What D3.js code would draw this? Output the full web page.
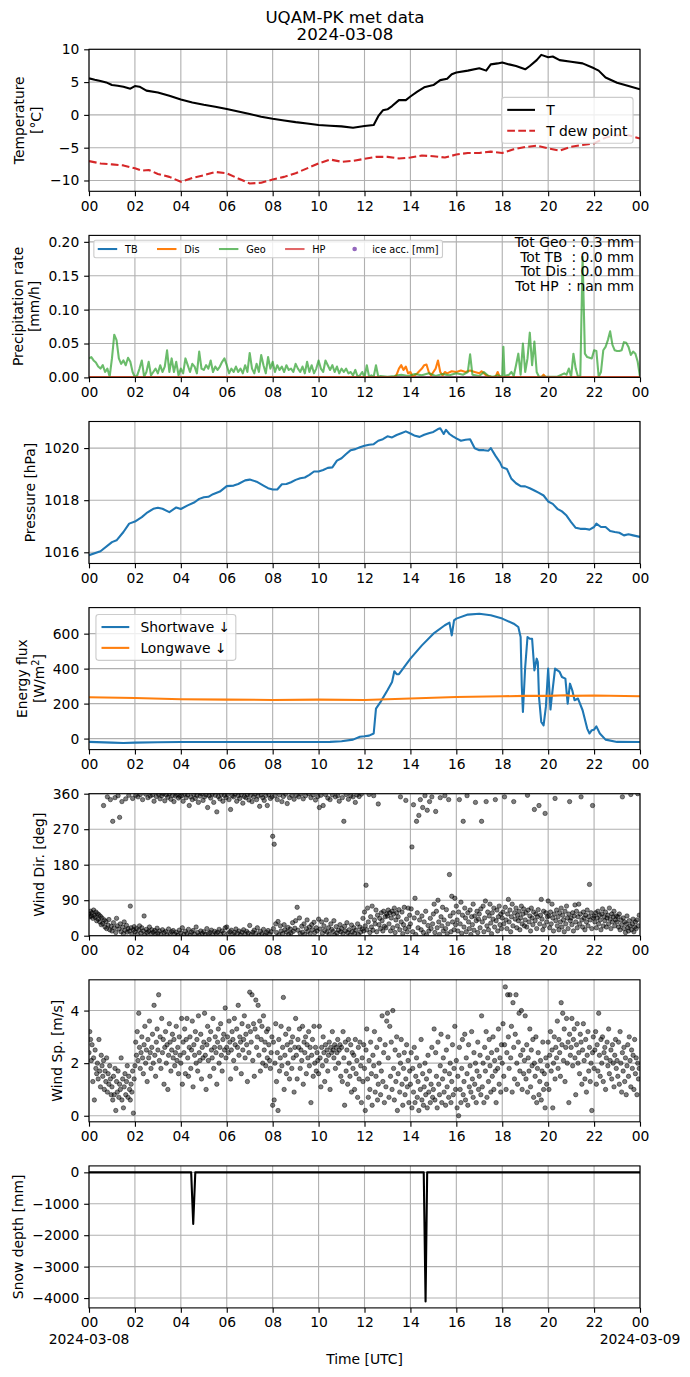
<!DOCTYPE html>
<html>
<head>
<meta charset="utf-8">
<script src="https://cdn.jsdelivr.net/npm/d3@7"></script>
<style>
  body { margin: 0; background: #fff; }
  svg text { font-family: "DejaVu Sans", sans-serif; }
</style>
</head>
<body>
<div id="chart"></div>
<script>
// ---- data (hours since 2024-03-08 00:00 UTC) ----
const hourTicks = [0, 2, 4, 6, 8, 10, 12, 14, 16, 18, 20, 22, 24];

const tempT = [[0,5.57],[0.25,5.35],[0.5,5.17],[0.75,4.95],[1,4.55],[1.25,4.45],[1.5,4.3],[1.8,4.0],[2.0,4.4],[2.2,4.3],[2.5,3.7],[3,3.4],[3.5,2.9],[4,2.35],[4.5,1.9],[5,1.55],[5.5,1.25],[6,0.9],[6.5,0.5],[7,0.13],[7.5,-0.28],[8,-0.6],[8.5,-0.85],[9,-1.1],[9.5,-1.3],[10,-1.55],[10.5,-1.65],[11,-1.75],[11.5,-1.95],[12,-1.7],[12.4,-1.55],[12.6,-0.2],[12.8,0.7],[13,0.85],[13.2,1.35],[13.5,2.25],[13.8,2.25],[14,2.8],[14.3,3.55],[14.6,4.2],[15,4.55],[15.3,5.3],[15.6,5.5],[15.8,6.2],[16,6.45],[16.5,6.75],[17,7.1],[17.3,6.75],[17.5,7.7],[17.8,7.85],[18,8.0],[18.3,7.7],[18.6,7.45],[19,6.95],[19.2,7.45],[19.5,8.35],[19.7,9.15],[20,8.8],[20.2,8.9],[20.5,8.35],[21,8.1],[21.5,7.85],[22,7.1],[22.2,6.75],[22.5,5.7],[23,4.9],[23.5,4.4],[24,3.9]];

const tempDew = [[0,-7.05],[0.5,-7.4],[1,-7.55],[1.5,-7.7],[2,-8.15],[2.3,-8.5],[2.6,-8.4],[3,-9.0],[3.5,-9.45],[4,-10.2],[4.5,-9.6],[5,-9.2],[5.5,-8.7],[6,-8.9],[6.5,-9.7],[7,-10.45],[7.5,-10.35],[8,-9.85],[8.5,-9.45],[9,-8.9],[9.5,-8.15],[10,-7.4],[10.5,-6.8],[11,-7.15],[11.5,-7.0],[12,-6.7],[12.5,-6.4],[13,-6.4],[13.5,-6.65],[14,-6.5],[14.5,-6.2],[15,-6.3],[15.5,-6.5],[16,-6.05],[16.5,-5.8],[17,-5.8],[17.5,-5.6],[18,-5.8],[18.5,-5.25],[19,-4.9],[19.5,-4.7],[20,-5.1],[20.5,-5.45],[21,-4.85],[21.5,-4.6],[22,-4.35],[22.5,-3.45],[23,-3.1],[23.5,-3.1],[24,-3.6]];

const precipTB = [[0,0],[24,0]];
const precipHP = [[0,0],[24,0]];
const precipDis = [[0,0],[13.3,0],[13.4,0.004],[13.5,0.013],[13.6,0.018],[13.7,0.011],[13.8,0.016],[13.9,0.006],[14.0,0.008],[14.1,0.001],[14.3,0.006],[14.5,0.013],[14.6,0.018],[14.7,0.019],[14.8,0.008],[14.9,0.003],[15.0,0.008],[15.1,0.013],[15.2,0.025],[15.3,0.008],[15.4,0.003],[15.5,0.008],[15.6,0.006],[15.8,0.009],[16.0,0.008],[16.2,0.01],[16.4,0.008],[16.6,0.01],[16.8,0.008],[17.0,0.006],[17.1,0.009],[17.3,0.003],[17.5,0.001],[17.7,0],[17.8,0.008],[17.9,0],[19.7,0],[19.8,0.004],[19.9,0],[24,0]];
const precipGeo = [[0.0,0.028],[0.1,0.03],[0.2,0.025],[0.3,0.022],[0.4,0.016],[0.5,0.013],[0.6,0.018],[0.7,0.008],[0.8,0.013],[0.9,0.001],
  [1.0,0.028],[1.1,0.063],[1.2,0.055],[1.3,0.028],[1.4,0.02],[1.5,0.025],[1.6,0.018],[1.7,0.029],[1.8,0.023],[1.9,0.008],
  [2.0,0],[2.1,0.003],[2.2,0.013],[2.3,0.025],[2.4,0.001],[2.5,0.008],[2.6,0.023],[2.7,0.003],[2.8,0.008],[2.9,0.013],
  [3.0,0.006],[3.1,0.018],[3.2,0.008],[3.3,0.016],[3.4,0.04],[3.5,0.008],[3.6,0.028],[3.7,0.008],[3.8,0.023],[3.9,0.003],
  [4.0,0.013],[4.1,0.006],[4.2,0.028],[4.3,0.018],[4.4,0.008],[4.5,0.02],[4.6,0.016],[4.7,0.006],[4.8,0.038],[4.9,0.013],
  [5.0,0.011],[5.1,0.018],[5.2,0.013],[5.3,0.025],[5.4,0.008],[5.5,0.016],[5.6,0.011],[5.7,0.016],[5.8,0.023],[5.9,0.028],
  [6.0,0.018],[6.1,0.006],[6.2,0.013],[6.3,0.008],[6.4,0.016],[6.5,0.008],[6.6,0.013],[6.7,0.006],[6.8,0.018],[6.9,0.008],
  [7.0,0.036],[7.1,0.013],[7.2,0.006],[7.3,0.02],[7.4,0.008],[7.5,0.033],[7.6,0.018],[7.7,0.006],[7.8,0.03],[7.9,0.013],
  [8.0,0.023],[8.1,0.008],[8.2,0.018],[8.3,0.011],[8.4,0.016],[8.5,0.008],[8.6,0.018],[8.7,0.011],[8.8,0.013],[8.9,0.008],
  [9.0,0.02],[9.1,0.013],[9.2,0.008],[9.3,0.016],[9.4,0.006],[9.5,0.023],[9.6,0.008],[9.7,0.018],[9.8,0.006],[9.9,0.013],
  [10.0,0.025],[10.1,0.013],[10.2,0.008],[10.3,0.025],[10.4,0.018],[10.5,0.011],[10.6,0.018],[10.7,0.008],[10.8,0.016],[10.9,0.006],
  [11.0,0.013],[11.1,0.008],[11.2,0.013],[11.3,0.006],[11.4,0.008],[11.5,0.003],[11.6,0.011],[11.7,0.001],[11.8,0.003],[11.9,0.008],
  [12.0,0],[12.1,0.018],[12.2,0.001],[12.3,0.003],[12.4,0.001],[12.5,0.018],[12.6,0.001],
  [12.7,0.002],[13.0,0.001],[13.3,0.002],[13.6,0.004],[13.9,0.002],[14.2,0.005],[14.5,0.003],[14.8,0.006],[15.1,0.002],[15.4,0.005],
  [15.7,0.003],[16.0,0.006],[16.3,0.004],[16.5,0.008],[16.6,0.034],[16.7,0.004],[17.0,0.002],[17.2,0.008],[17.4,0.002],[17.6,0.001],
  [17.8,0.003],[18.0,0.001],[18.05,0.045],[18.1,0.002],[18.3,0.004],[18.4,0.008],[18.5,0.002],[18.6,0.018],[18.7,0.035],[18.8,0.004],
  [18.9,0.05],[19.0,0.008],[19.1,0.028],[19.2,0.066],[19.3,0.018],[19.4,0.053],[19.5,0.008],[19.6,0.001],[20.0,0.001],[20.4,0.001],
  [20.7,0.006],[20.8,0.004],[20.9,0.013],[21.0,0.001],[21.1,0.035],[21.2,0.013],[21.3,0.001],[21.4,0.002],[21.5,0.178],[21.6,0.035],
  [21.7,0.03],[21.8,0.029],[21.9,0.028],[22.0,0.04],[22.1,0.039],[22.2,0.001],[22.3,0.008],[22.4,0.04],[22.5,0.045],[22.6,0.055],
  [22.7,0.068],[22.8,0.048],[22.9,0.04],[23.0,0.039],[23.1,0.039],[23.2,0.04],[23.3,0.052],[23.4,0.051],[23.5,0.045],[23.6,0.033],
  [23.7,0.038],[23.8,0.035],[23.9,0.023],[24.0,0.001]];
const precipTotals = ["Tot Geo : 0.3 mm", "Tot TB  : 0.0 mm", "Tot Dis : 0.0 mm", "Tot HP  : nan mm"];

const pressure = [[0,1015.89],[0.5,1016.04],[1,1016.39],[1.2,1016.46],[1.5,1016.78],[1.75,1017.1],[2,1017.18],[2.3,1017.35],[2.5,1017.5],[2.8,1017.67],[3,1017.71],[3.2,1017.67],[3.5,1017.54],[3.8,1017.72],[4,1017.66],[4.3,1017.8],[4.6,1017.92],[4.8,1018.05],[5,1018.11],[5.2,1018.13],[5.4,1018.23],[5.7,1018.33],[6,1018.54],[6.3,1018.56],[6.5,1018.62],[6.8,1018.76],[7,1018.79],[7.3,1018.71],[7.6,1018.56],[7.8,1018.46],[8,1018.41],[8.2,1018.41],[8.4,1018.61],[8.6,1018.62],[8.8,1018.69],[9,1018.78],[9.2,1018.84],[9.4,1018.87],[9.6,1018.97],[9.8,1019.1],[10,1019.1],[10.2,1019.16],[10.4,1019.24],[10.6,1019.26],[10.8,1019.52],[11,1019.61],[11.2,1019.77],[11.4,1019.92],[11.6,1019.96],[11.8,1020.03],[12,1020.09],[12.2,1020.13],[12.4,1020.15],[12.6,1020.28],[12.8,1020.34],[13,1020.45],[13.2,1020.41],[13.4,1020.5],[13.6,1020.57],[13.8,1020.64],[14,1020.56],[14.2,1020.47],[14.4,1020.43],[14.6,1020.51],[14.8,1020.57],[15,1020.62],[15.2,1020.73],[15.3,1020.76],[15.45,1020.54],[15.55,1020.7],[15.7,1020.54],[15.85,1020.45],[16,1020.37],[16.2,1020.28],[16.4,1020.32],[16.6,1020.34],[16.8,1019.99],[17,1019.92],[17.2,1019.92],[17.4,1019.9],[17.5,1020.0],[17.7,1019.71],[17.9,1019.45],[18,1019.26],[18.2,1019.2],[18.4,1018.82],[18.6,1018.65],[18.8,1018.54],[19,1018.53],[19.2,1018.46],[19.4,1018.37],[19.6,1018.28],[19.8,1018.18],[20,1017.95],[20.2,1017.86],[20.4,1017.67],[20.6,1017.57],[20.8,1017.41],[21,1017.16],[21.2,1016.94],[21.4,1016.9],[21.6,1016.9],[21.8,1016.87],[22,1016.97],[22.1,1017.1],[22.3,1016.97],[22.5,1016.97],[22.7,1016.82],[22.9,1016.78],[23.1,1016.75],[23.3,1016.65],[23.5,1016.69],[23.7,1016.65],[24,1016.59]];

const swDown = [[0,-19],[1,-23],[1.5,-25],[2,-23],[3,-21],[4,-20],[6,-20],[8,-20],[10,-20],[10.5,-19],[11,-15],[11.5,-6],[11.8,10],[12,13],[12.2,17],[12.4,29],[12.5,171],[12.7,210],[13,276],[13.2,324],[13.3,385],[13.4,368],[13.5,368],[14,457],[14.5,533],[15,600],[15.5,648],[15.7,663],[15.8,590],[15.9,676],[16,686],[16.5,709],[17,714],[17.5,705],[18,686],[18.5,657],[18.7,638],[18.8,581],[18.85,305],[18.9,152],[19.0,410],[19.1,581],[19.2,571],[19.3,571],[19.4,390],[19.5,457],[19.55,438],[19.6,238],[19.7,95],[19.8,76],[19.9,181],[20.0,400],[20.1,166],[20.15,229],[20.3,400],[20.5,381],[20.6,352],[20.75,343],[20.85,200],[20.95,314],[21.05,276],[21.15,219],[21.3,229],[21.5,162],[21.7,57],[21.8,29],[21.9,48],[22.0,51],[22.1,70],[22.25,29],[22.5,-6],[23,-19],[24,-20]];
const lwDown = [[0,236],[2,232],[4,225],[6,223],[8,221],[10,223],[12,221],[13,225],[14,229],[16,238],[18,242],[19,244],[20,244],[20.8,248],[21,244],[22,246],[24,242]];

// wind samples every 2 minutes (30 per hour)
const windStepMin = 2;
const windDir = [
  55,48,62,50,58,44,65,52,47,60,38,56,42,53,35,49,28,45,31,330,40,22,36,18,352,27,41,15,345,24,
  12,290,33,20,350,8,44,25,355,17,300,30,10,340,22,5,35,14,347,26,9,18,356,12,75,20,4,348,15,23,
  10,356,18,3,352,14,25,358,7,20,345,12,50,2,359,16,8,350,11,22,354,5,15,357,9,341,13,4,353,19,
  6,358,12,347,3,355,15,360,8,342,11,357,2,351,17,359,5,346,10,356,13,340,4,354,9,358,1,349,14,353,
  7,355,20,341,3,359,11,350,5,357,16,330,2,352,9,345,13,358,4,348,22,356,8,338,1,354,12,360,6,343,
  10,352,3,357,18,325,5,355,8,349,14,359,2,338,11,356,6,314,9,353,16,347,4,358,12,341,7,356,20,350,
  22,358,5,345,10,320,14,355,3,352,8,359,17,341,6,355,12,348,2,357,9,336,15,353,4,350,11,358,7,344,
  26,356,3,340,9,352,14,359,6,345,20,354,1,328,11,357,5,350,16,343,2,355,8,330,13,358,4,348,10,352,
  252,18,232,355,30,8,345,36,2,357,25,12,340,5,353,28,15,359,9,335,21,4,350,17,7,356,33,11,346,19,
  38,356,72,14,352,45,6,359,24,9,347,30,3,355,18,40,11,360,22,5,350,28,15,357,34,8,344,20,12,353,
  42,325,17,356,35,6,330,25,13,358,40,9,349,20,4,345,30,16,357,11,38,2,352,23,7,355,14,341,28,10,
  18,350,5,290,24,12,358,33,8,346,15,2,355,27,10,352,20,6,338,14,357,30,3,353,22,9,359,17,44,12,
  60,25,128,15,70,35,358,8,48,22,75,14,355,40,30,65,10,52,334,28,44,18,58,38,12,62,24,48,20,55,
  50,65,30,58,12,45,62,20,55,70,8,40,58,25,48,66,15,352,35,60,5,28,72,18,343,42,10,70,22,52,
  30,68,225,10,332,45,95,3,290,58,20,305,40,345,15,50,325,8,35,355,62,2,318,26,12,340,44,18,352,30,
  55,80,8,315,62,20,90,35,3,350,48,25,72,12,40,355,18,66,5,30,345,155,50,10,100,35,58,15,95,28,
  75,40,12,60,345,30,85,6,52,290,22,70,45,10,355,58,35,18,65,3,48,28,80,14,50,338,38,62,8,42,
  55,20,68,290,35,75,10,45,88,340,25,60,15,50,80,32,5,58,42,70,22,345,38,65,12,48,75,28,55,18,
  45,60,30,352,72,40,18,55,92,35,65,10,48,80,25,340,58,42,70,20,52,38,62,15,45,75,30,55,68,25,
  40,58,22,356,65,35,50,12,70,45,28,60,320,38,55,18,48,66,330,30,52,92,42,15,62,25,310,58,35,48,
  88,50,20,60,30,80,45,12,55,348,38,65,25,48,15,58,35,70,22,52,40,10,62,30,75,45,18,55,340,38,
  45,28,58,12,50,78,35,62,20,48,80,30,55,352,40,22,60,45,15,52,35,65,25,48,130,40,58,18,330,45,
  50,35,58,20,45,62,30,52,40,15,55,68,25,48,38,60,22,45,52,30,70,42,18,55,35,48,62,25,40,50,
  35,48,22,55,15,40,28,352,45,18,35,8,30,50,20,12,38,25,358,15,30,42,10,22,35,18,40,360,25,52
];
const windSpeed = [
  2.4,3.2,2.9,2.1,2.7,1.3,2.2,0.6,2.5,1.8,1.6,2.0,1.4,2.9,1.7,1.1,2.3,1.9,1.5,2.1,1.0,1.7,1.3,2.2,0.9,1.6,1.2,1.9,1.4,0.8,
  1.1,0.6,1.5,0.8,1.8,0.2,1.3,0.9,1.7,0.7,1.2,1.0,2.2,0.6,1.4,0.3,1.1,1.6,0.8,1.3,1.9,0.7,1.5,1.0,0.6,1.2,0.9,1.7,0.1,1.4,
  1.9,2.8,2.3,3.2,2.1,3.9,2.6,1.8,2.4,3.0,2.2,1.6,2.7,3.4,2.0,2.5,1.3,2.9,2.2,3.6,2.4,1.8,2.6,3.1,2.0,4.2,2.3,1.5,2.8,3.3,
  2.5,4.6,2.1,3.0,1.8,3.7,2.4,2.9,1.2,2.6,3.2,2.0,2.7,1.0,2.3,3.5,2.8,1.7,2.5,3.1,2.2,2.9,1.9,2.4,3.4,2.1,2.6,1.6,3.0,2.3,
  2.0,3.7,1.2,2.8,2.4,3.3,1.6,2.9,3.7,2.2,1.5,2.6,3.0,1.8,2.5,3.6,1.1,2.7,2.3,3.2,2.0,2.9,1.7,3.8,2.4,2.1,3.1,1.4,2.6,2.2,
  2.8,3.9,2.3,1.0,2.7,3.4,2.1,2.9,1.5,3.2,2.5,2.2,3.7,1.8,2.6,3.0,2.4,1.2,2.8,3.3,2.0,2.6,3.5,2.3,1.7,2.9,3.1,2.5,4.1,2.2,
  2.6,3.0,2.4,3.6,2.8,1.4,2.5,3.2,2.9,2.1,3.7,2.7,1.8,3.3,2.6,4.2,2.3,3.0,2.8,1.6,3.5,2.5,2.9,3.8,2.2,3.1,2.7,1.3,3.4,2.4,
  4.7,3.2,2.8,4.6,2.1,3.5,1.5,3.3,4.4,2.6,3.0,4.2,2.3,3.6,1.7,2.9,3.4,2.0,3.8,2.5,2.8,1.9,3.2,2.2,3.3,2.7,2.1,1.8,2.4,3.0,
  0.4,2.8,0.6,2.0,3.5,1.3,2.4,0.2,2.9,1.7,2.2,3.4,1.9,2.6,4.5,1.0,2.3,3.1,1.6,2.7,2.0,3.3,1.4,2.5,2.8,1.8,3.0,2.2,0.9,2.6,
  3.7,2.3,1.4,2.9,2.6,3.3,1.8,2.5,2.1,3.4,1.2,2.8,2.4,3.0,1.6,2.7,2.2,3.2,1.9,2.6,0.5,2.3,2.9,1.5,3.4,2.0,2.6,1.7,2.4,2.1,
  1.6,3.4,2.2,1.1,2.6,1.9,3.0,2.4,1.3,2.7,2.1,2.5,1.7,2.3,2.8,1.0,2.6,2.4,3.2,2.5,2.2,2.7,1.8,2.6,2.4,2.9,2.0,2.5,2.7,1.5,
  2.6,1.3,3.2,2.2,0.4,2.8,1.7,2.5,1.2,2.9,2.0,1.5,2.7,0.9,2.4,1.8,2.3,1.0,2.9,1.6,2.1,0.7,2.6,1.4,2.8,1.9,0.5,2.2,1.3,2.7,
  1.8,0.2,2.5,3.3,1.4,0.7,2.1,1.0,2.8,1.6,0.4,2.3,1.9,3.2,0.9,1.5,2.6,0.6,1.2,2.0,2.9,0.8,1.7,3.8,1.3,2.4,0.5,2.7,1.1,3.6,
  3.9,2.2,0.7,3.4,1.5,2.8,1.0,4.0,1.8,0.6,2.5,1.3,3.0,0.2,1.6,2.3,0.9,2.0,2.9,1.2,0.4,1.8,2.4,0.8,1.4,2.7,1.1,2.1,0.5,1.7,
  1.2,2.4,0.3,1.8,0.9,2.6,0.5,1.5,2.2,0.7,1.3,0.2,1.9,1.0,2.9,0.6,1.6,0.4,1.1,2.0,0.8,1.4,0.3,2.3,0.9,1.7,0.5,1.2,2.6,0.7,
  1.0,3.3,0.6,2.4,1.5,0.3,2.8,1.2,0.8,1.9,3.1,0.5,1.4,2.2,0.9,1.7,0.4,2.5,1.1,3.0,0.7,1.6,2.0,0.5,1.3,2.7,0.8,1.8,3.4,1.0,
  2.1,0.3,1.5,0.0,2.6,1.0,0.5,1.8,2.9,0.8,1.3,3.1,0.6,2.2,1.6,0.4,2.7,1.1,1.9,0.9,3.2,1.4,0.7,2.4,1.2,2.0,0.5,1.7,2.8,1.0,
  1.5,2.3,0.8,3.8,1.1,2.0,0.5,2.6,1.7,3.2,0.7,2.2,1.3,2.9,1.9,0.9,2.4,1.5,3.0,1.0,2.1,1.7,0.5,2.5,1.8,3.3,1.2,2.2,0.9,2.7,
  2.0,3.5,1.5,2.7,4.9,1.0,2.4,4.6,3.0,1.8,4.6,2.2,3.4,0.9,4.3,2.6,1.4,3.1,4.6,2.0,1.2,2.8,3.9,1.7,2.3,4.0,1.0,2.5,1.6,2.1,
  3.8,1.4,2.7,0.9,2.2,1.7,3.3,1.1,2.5,1.9,2.9,0.7,2.0,1.5,3.0,0.5,1.8,2.4,0.8,1.3,2.1,0.6,1.7,2.8,1.0,1.6,0.3,2.2,1.2,1.9,
  2.8,1.0,2.3,3.2,1.7,2.5,0.3,2.0,3.0,1.4,2.6,2.2,3.6,1.8,2.9,2.4,1.5,4.3,2.7,3.9,2.1,3.3,1.3,2.6,3.7,2.0,2.8,0.5,3.1,2.3,
  2.6,3.7,1.9,2.9,3.3,2.2,0.8,2.7,3.5,2.0,2.4,1.6,3.1,2.8,1.2,2.5,3.5,2.1,1.4,2.9,0.9,2.3,3.2,1.7,2.6,1.3,2.0,0.2,2.4,3.0,
  1.8,2.5,3.2,1.2,2.7,1.7,3.9,2.3,1.5,2.9,2.0,3.0,1.3,2.4,2.6,1.0,2.2,2.8,1.9,3.3,1.6,2.1,2.5,1.4,2.7,2.0,1.1,2.3,2.9,1.8,
  2.1,1.5,2.8,1.2,3.2,2.0,0.9,2.4,1.7,2.6,1.3,2.2,0.8,1.9,2.7,1.5,3.0,2.1,1.1,2.5,1.8,2.3,1.0,2.9,1.6,2.2,0.8,2.0,1.4,1.8
];

const snowDepth = [[0,0],[4.45,0],[4.54,-1641],[4.63,0],[14.58,0],[14.66,-4108],[14.73,0],[24,0]];

const tempTicks = [-10, -5, 0, 5, 10];
const precipTicks = [0, 0.05, 0.10, 0.15, 0.20];
const pressTicks = [1016, 1018, 1020];
const fluxTicks = [0, 200, 400, 600];
const dirTicks = [0, 90, 180, 270, 360];
const speedTicks = [0, 2, 4];
const snowTicks = [-4000, -3000, -2000, -1000, 0];

// ---- layout ----
const W = 690, H = 1377;
const L = 89, R = 640, PH = 142, TOP0 = 49.3, STEP = 186.1;
const PT = 100 / 72;
const FS = 10 * PT, TICK = 3.5 * PT, PAD = 3.5 * PT, LW = 1.5 * PT, THIN = 0.8 * PT;

const dayStart = Date.UTC(2024, 2, 8);
const toTime = h => new Date(dayStart + h * 3600e3);

const svg = d3.select("#chart").append("svg")
    .attr("width", W).attr("height", H);
svg.append("rect").attr("width", W).attr("height", H).attr("fill", "#fff");
const defs = svg.append("defs");

const x = d3.scaleUtc().domain([toTime(0), toTime(24)]).range([L, R]);

svg.append("text").attr("x", W / 2).attr("y", 23).attr("text-anchor", "middle")
   .attr("font-size", 12 * PT).text("UQAM-PK met data");
svg.append("text").attr("x", W / 2).attr("y", 39.5).attr("text-anchor", "middle")
   .attr("font-size", 12 * PT).text("2024-03-08");

function makePanel(i, yDomain, yTicks, yFormat) {
  const top = TOP0 + i * STEP;
  const g = svg.append("g").attr("transform", `translate(0,${top})`);
  const y = d3.scaleLinear().domain(yDomain).range([PH, 0]);

  const grid = g.append("g").attr("stroke", "#b0b0b0").attr("stroke-width", THIN);
  grid.selectAll(".gx").data(hourTicks).join("line").attr("class", "gx")
      .attr("x1", h => x(toTime(h))).attr("x2", h => x(toTime(h)))
      .attr("y1", 0).attr("y2", PH);
  grid.selectAll(".gy").data(yTicks).join("line").attr("class", "gy")
      .attr("x1", L).attr("x2", R)
      .attr("y1", d => y(d)).attr("y2", d => y(d));

  defs.append("clipPath").attr("id", "clip" + i)
      .append("rect").attr("x", L).attr("y", 0).attr("width", R - L).attr("height", PH);
  const plot = g.append("g").attr("clip-path", `url(#clip${i})`);
  return { g, y, plot, yTicks, yFormat };
}

function drawLine(p, data, color, opts = {}) {
  const line = d3.line().x(d => x(toTime(d[0]))).y(d => p.y(d[1]));
  p.plot.append("path").datum(data)
    .attr("d", line)
    .attr("fill", "none")
    .attr("stroke", color)
    .attr("stroke-width", opts.width || LW)
    .attr("stroke-opacity", opts.opacity || 1)
    .attr("stroke-dasharray", opts.dash || null)
    .attr("stroke-linejoin", "round");
}

function drawScatter(p, values) {
  p.plot.append("g").selectAll("circle")
    .data(values)
    .join("circle")
    .attr("cx", (d, i) => x(toTime(i * windStepMin / 60)))
    .attr("cy", d => p.y(d))
    .attr("r", 2.2)
    .attr("fill", "#000")
    .attr("fill-opacity", 0.5)
    .attr("stroke", "#000")
    .attr("stroke-opacity", 0.5)
    .attr("stroke-width", 0.9);
}

function finishPanel(p, labelLines) {
  const { g, y } = p;
  g.append("rect").attr("x", L).attr("y", 0).attr("width", R - L).attr("height", PH)
   .attr("fill", "none").attr("stroke", "#000").attr("stroke-width", THIN);

  const xa = g.append("g").attr("transform", `translate(0,${PH})`)
    .call(d3.axisBottom(x).tickValues(hourTicks.map(toTime))
      .tickFormat(d3.utcFormat("%H")).tickSize(TICK).tickPadding(PAD));
  const ya = g.append("g").attr("transform", `translate(${L},0)`)
    .call(d3.axisLeft(y).tickValues(p.yTicks).tickFormat(p.yFormat)
      .tickSize(TICK).tickPadding(PAD));
  [xa, ya].forEach(a => {
    a.select(".domain").remove();
    a.attr("font-size", null).attr("font-family", null);
    a.selectAll("line").attr("stroke", "#000").attr("stroke-width", THIN);
    a.selectAll("text").attr("font-size", FS).attr("fill", "#000");
  });

  const bb = ya.node().getBBox();
  const base = L + bb.x - 4 * PT - 0.24 * FS;
  labelLines.forEach((line, j) => {
    const lx = base - (labelLines.length - 1 - j) * 1.2 * FS;
    g.append("text")
     .attr("transform", `translate(${lx},${PH / 2}) rotate(-90)`)
     .attr("text-anchor", "middle")
     .attr("font-size", FS)
     .html(line);
  });
  return xa;
}

function drawLegend(g, entries, opt) {
  const fs = opt.fs, ncol = opt.ncol || 1;
  const nrow = Math.ceil(entries.length / ncol);
  const hl = 2 * fs, htp = 0.8 * fs, bp = 0.4 * fs, ls = 0.5 * fs, cs = 2 * fs, rowH = fs;
  const lg = g.append("g");
  const frame = lg.append("rect");
  const texts = entries.map(e => lg.append("text").attr("font-size", fs).text(e.label));
  const widths = texts.map(t => t.node().getComputedTextLength());

  const colW = [];
  for (let c = 0; c < ncol; c++) {
    const idx = d3.range(c * nrow, Math.min((c + 1) * nrow, entries.length));
    colW.push(hl + htp + d3.max(idx, k => widths[k]));
  }
  const boxW = 2 * bp + d3.sum(colW) + (ncol - 1) * cs;
  const boxH = 2 * bp + nrow * rowH + (nrow - 1) * ls;
  const left = opt.anchor === "right" ? opt.x - boxW : opt.x;
  const top = opt.top !== undefined ? opt.top : opt.cy - boxH / 2;

  frame.attr("x", left).attr("y", top).attr("width", boxW).attr("height", boxH)
    .attr("rx", 0.2 * fs).attr("fill", "#fff").attr("fill-opacity", 0.8)
    .attr("stroke", "#cccccc").attr("stroke-width", THIN);

  entries.forEach((e, k) => {
    const c = Math.floor(k / nrow), r = k % nrow;
    const cx0 = left + bp + d3.sum(colW.slice(0, c)) + c * cs;
    const cy = top + bp + rowH / 2 + r * (rowH + ls);
    if (e.type === "dot") {
      lg.append("circle").attr("cx", cx0 + hl / 2).attr("cy", cy).attr("r", 2.3)
        .attr("fill", e.color);
    } else {
      lg.append("line").attr("x1", cx0).attr("x2", cx0 + hl).attr("y1", cy).attr("y2", cy)
        .attr("stroke", e.color).attr("stroke-width", LW)
        .attr("stroke-opacity", e.opacity || 1)
        .attr("stroke-dasharray", e.dash || null);
    }
    texts[k].attr("x", cx0 + hl + htp).attr("y", cy).attr("dy", "0.36em");
  });
}

const dashed = `${3.7 * LW},${1.6 * LW}`;

// ---- panel 1: temperature ----
const p1 = makePanel(0, [-11.65, 10.0], tempTicks, d3.format("d"));
drawLine(p1, tempT, "#000000");
drawLine(p1, tempDew, "#d62728", { dash: dashed });
finishPanel(p1, ["Temperature", "[°C]"]);
drawLegend(p1.g, [
  { label: "T", color: "#000000" },
  { label: "T dew point", color: "#d62728", dash: dashed }
], { fs: FS, anchor: "right", x: R - 0.5 * FS, cy: PH / 2 });

// ---- panel 2: precipitation ----
const p2 = makePanel(1, [0, 0.2095], precipTicks, d3.format(".2f"));
drawLine(p2, precipTB, "#1f77b4");
drawLine(p2, precipDis, "#ff7f0e");
drawLine(p2, precipGeo, "#2ca02c", { opacity: 0.7 });
drawLine(p2, precipHP, "#d62728", { opacity: 0.7 });
finishPanel(p2, ["Precipitation rate", "[mm/h]"]);
const fsSmall = 7 * PT;
drawLegend(p2.g, [
  { label: "TB", color: "#1f77b4" },
  { label: "Dis", color: "#ff7f0e" },
  { label: "Geo", color: "#2ca02c", opacity: 0.7 },
  { label: "HP", color: "#d62728", opacity: 0.7 },
  { label: "ice acc. [mm]", color: "#9467bd", type: "dot" }
], { fs: fsSmall, ncol: 5, anchor: "left", x: L + 0.5 * fsSmall, top: 0.5 * fsSmall });
p2.g.append("g").selectAll("text").data(precipTotals).join("text")
  .attr("x", R - 6).attr("y", (d, i) => 11.6 + i * 14.6)
  .attr("text-anchor", "end").attr("font-size", FS)
  .style("white-space", "pre")
  .text(d => d);

// ---- panel 3: pressure ----
const p3 = makePanel(2, [1015.57, 1021.02], pressTicks, d3.format("d"));
drawLine(p3, pressure, "#1f77b4");
finishPanel(p3, ["Pressure [hPa]"]);

// ---- panel 4: radiation ----
const p4 = makePanel(3, [-63, 749], fluxTicks, d3.format("d"));
drawLine(p4, swDown, "#1f77b4");
drawLine(p4, lwDown, "#ff7f0e");
finishPanel(p4, ["Energy flux", '[W/m<tspan dy="-5" font-size="' + (0.7 * FS) + '">2</tspan><tspan dy="5">]</tspan>']);
drawLegend(p4.g, [
  { label: "Shortwave \u2193", color: "#1f77b4" },
  { label: "Longwave \u2193", color: "#ff7f0e" }
], { fs: FS, anchor: "left", x: L + 0.5 * FS, top: 0.5 * FS });

// ---- panel 5: wind direction ----
const p5 = makePanel(4, [0, 360], dirTicks, d3.format("d"));
drawScatter(p5, windDir);
finishPanel(p5, ["Wind Dir. [deg]"]);

// ---- panel 6: wind speed ----
const p6 = makePanel(5, [-0.23, 5.17], speedTicks, d3.format("d"));
drawScatter(p6, windSpeed);
finishPanel(p6, ["Wind Sp. [m/s]"]);

// ---- panel 7: snow depth ----
const p7 = makePanel(6, [-4313, 205], snowTicks, d3.format("d"));
drawLine(p7, snowDepth, "#000000");
finishPanel(p7, ["Snow depth [mm]"]);
const dateY = PH + TICK + PAD + 0.71 * FS + 1.2 * FS;
p7.g.append("text").attr("x", x(toTime(0))).attr("y", dateY)
  .attr("text-anchor", "middle").attr("font-size", FS).text("2024-03-08");
p7.g.append("text").attr("x", x(toTime(24))).attr("y", dateY)
  .attr("text-anchor", "middle").attr("font-size", FS).text("2024-03-09");
p7.g.append("text").attr("x", (L + R) / 2).attr("y", dateY + 19.5)
  .attr("text-anchor", "middle").attr("font-size", FS).text("Time [UTC]");
</script>
</body>
</html>
